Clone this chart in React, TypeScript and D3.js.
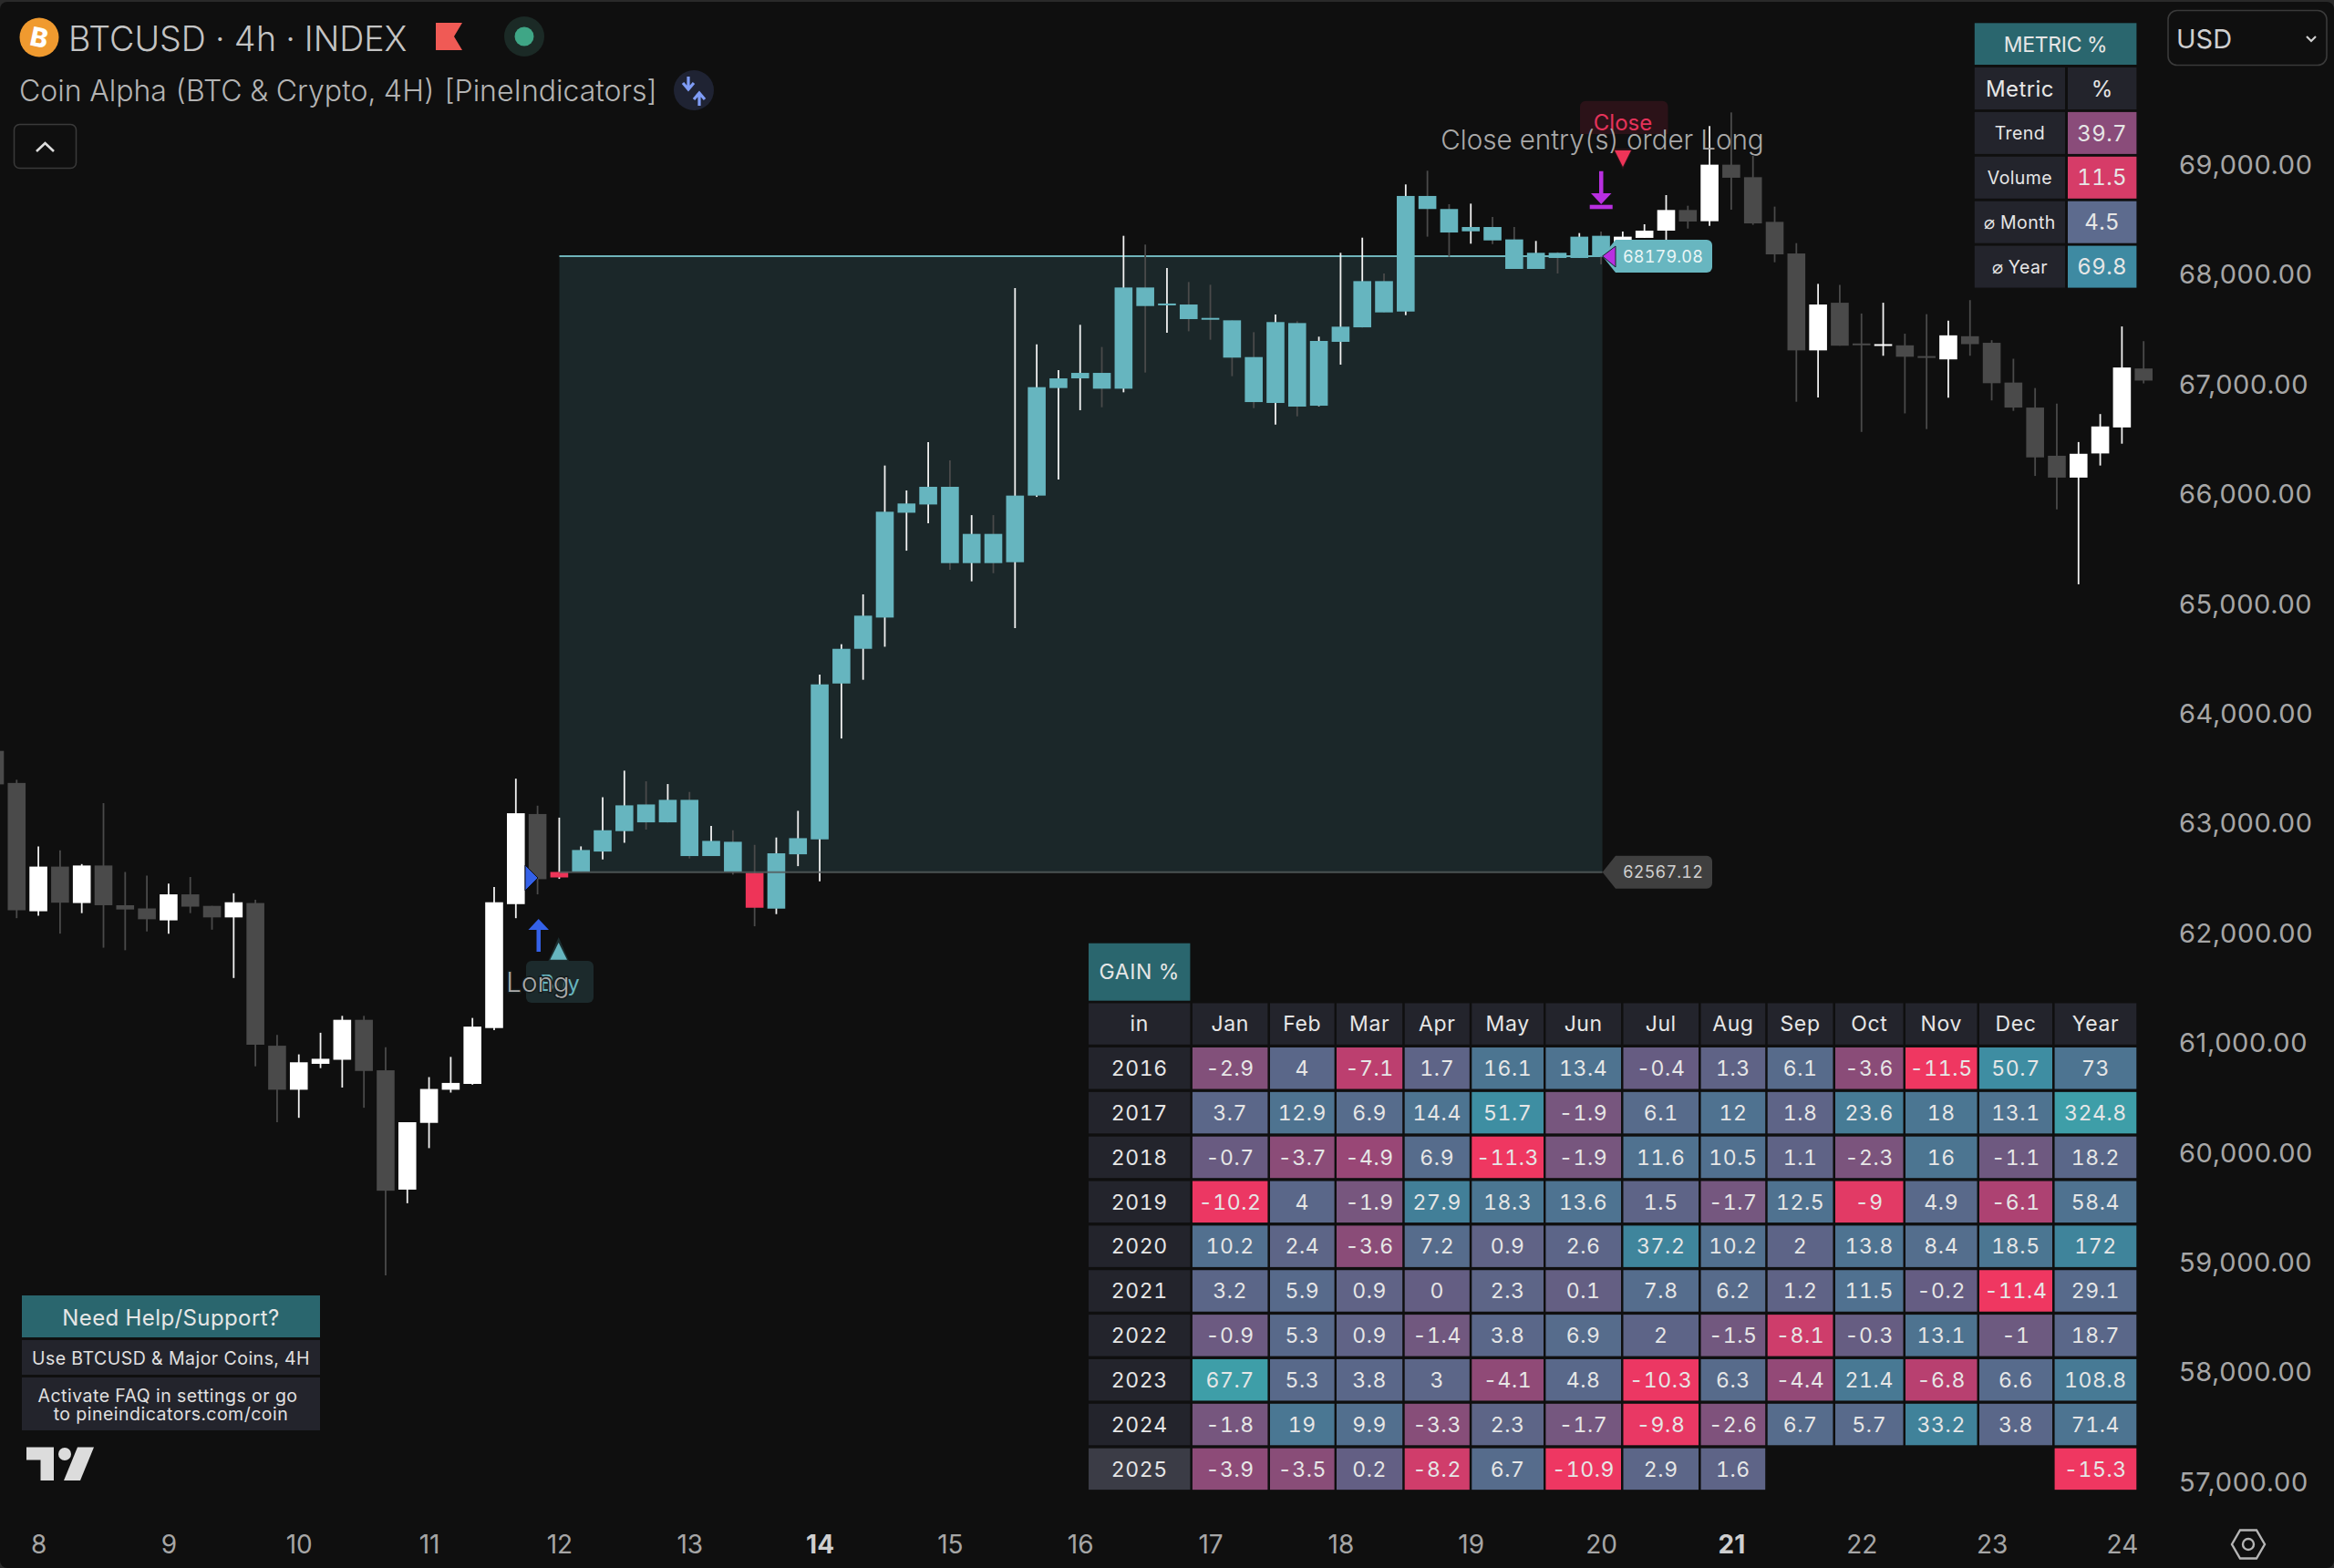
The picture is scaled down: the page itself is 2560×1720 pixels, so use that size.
// @ts-nocheck
import { useRef, useEffect } from "react";
import * as d3 from "d3";

// velas 4h, de izquierda a derecha
const opens = [63672,63380,62211,62618,62286,62628,62266,62237,62128,62365,62260,62155,62286,60986,60585,60821,60858,61222,60762,59675,60283,60585,60638,61147,62276,63097,62519,62572,62755,62941,63184,63021,63226,62714,62844,62561,62235,62730,62866,64286,64602,64887,65842,65917,66078,65383,65649,65391,65998,66978,67066,67116,66972,67894,67734,67739,67617,67595,67260,66842,67570,66817,67399,67531,67952,67675,68728,68609,68406,68445,68332,68063,68210,68163,68365,68271,68346,68412,68600,68498,69013,68899,68492,68204,67321,67755,67384,67367,67367,67269,67239,67450,67390,67028,66800,66361,66162,66382,66619,67156];
const highs = [63672,63409,62802,62766,62641,63196,62569,62536,62463,62523,62260,62375,62316,61084,60907,61104,61258,61258,60973,60289,60700,60884,61239,62431,63419,63173,63064,62802,63251,63492,63395,63370,63298,62988,62949,62816,62883,63126,64367,64644,65098,66272,66045,66485,66319,65820,65820,67889,67376,67141,67554,67352,68365,68285,68071,67944,67919,67595,67487,67648,67587,67446,68210,68348,68022,68833,68958,68653,68658,68537,68445,68318,68215,68390,68404,68404,68470,68736,68639,69365,69489,69093,68631,68298,67927,67918,67657,67755,67473,67651,67592,67779,67414,67245,66978,66836,66486,66741,67539,67405];
const lows = [63367,62148,62171,62007,62194,61879,61856,62027,62007,62194,62043,61603,60798,60289,60329,60782,60605,60421,58894,59551,60053,60559,60631,61127,62148,62365,62506,62572,62683,62835,62955,63021,62692,62714,62545,62074,62185,62622,62484,63785,64320,64621,65496,65746,65322,65217,65291,64790,65986,66144,66776,66803,66939,67119,67482,67495,67418,67086,66795,66645,66720,66812,67191,67531,67667,67642,68357,68174,68293,68290,68063,68063,68022,68163,68105,68200,68346,68326,68431,68456,68603,68465,68124,66853,66892,67364,66578,67272,66747,66604,66889,67272,66865,66770,66177,65872,65190,66272,66471,67020];
const closes = [63367,62220,62618,62289,62628,62266,62227,62138,62365,62253,62155,62293,60995,60585,60835,60867,61222,60756,59665,60289,60592,60647,61160,62293,63104,62503,62569,62769,62949,63176,63021,63226,62714,62852,62572,62243,62739,62877,64278,64602,64904,65851,65926,66078,65383,65649,65383,65998,66986,67066,67116,66972,67894,67725,67748,67606,67606,67255,66850,67579,66809,67407,67537,67952,67667,68728,68609,68395,68445,68323,68063,68210,68163,68357,68174,68357,68412,68600,68495,69013,68894,68478,68196,67321,67739,67364,67372,67378,67263,67257,67458,67378,67022,66800,66346,66162,66379,66628,67165,67046];

// zona de la operacion long y velas marcadas en rojo
const longStart = 27;
const longEnd = 74;
const redBars = [26, 35];
const entryPrice = 62567.12;
const exitPrice = 68179.08;

const priceTicks = [69000,68000,67000,66000,65000,64000,63000,62000,61000,60000,59000,58000,57000];
const dayLabels = [8,9,10,11,12,13,14,15,16,17,18,19,20,21,22,23,24];
const boldDays = [14, 21];

const gainMonths = ["Jan","Feb","Mar","Apr","May","Jun","Jul","Aug","Sep","Oct","Nov","Dec"];
const gainYears = [2016,2017,2018,2019,2020,2021,2022,2023,2024,2025];
const gainRows = [
  [-2.9,4,-7.1,1.7,16.1,13.4,-0.4,1.3,6.1,-3.6,-11.5,50.7],
  [3.7,12.9,6.9,14.4,51.7,-1.9,6.1,12,1.8,23.6,18,13.1],
  [-0.7,-3.7,-4.9,6.9,-11.3,-1.9,11.6,10.5,1.1,-2.3,16,-1.1],
  [-10.2,4,-1.9,27.9,18.3,13.6,1.5,-1.7,12.5,-9,4.9,-6.1],
  [10.2,2.4,-3.6,7.2,0.9,2.6,37.2,10.2,2,13.8,8.4,18.5],
  [3.2,5.9,0.9,0,2.3,0.1,7.8,6.2,1.2,11.5,-0.2,-11.4],
  [-0.9,5.3,0.9,-1.4,3.8,6.9,2,-1.5,-8.1,-0.3,13.1,-1],
  [67.7,5.3,3.8,3,-4.1,4.8,-10.3,6.3,-4.4,21.4,-6.8,6.6],
  [-1.8,19,9.9,-3.3,2.3,-1.7,-9.8,-2.6,6.7,5.7,33.2,3.8],
  [-3.9,-3.5,0.2,-8.2,6.7,-10.9,2.9,1.6],
];
const gainTotals = [73,324.8,18.2,58.4,172,29.1,18.7,108.8,71.4,-15.3];

const metricNames = ["Trend","Volume","⌀ Month","⌀ Year"];
const metricValues = [39.7,11.5,4.5,69.8];
const metricColors = ["#8a4c7a","#d63c68","#5d6b8e","#3e8aa2"];

const FONT = "Inter, 'Noto Sans', sans-serif";
const BG = "#0f0f0f";
const TEAL = "#66b5bf";
const RED = "#ee3458";
const GRAY_BAR = "#4a4a4a";

const App = () => {
  const svgRef = useRef();

  useEffect(() => {
    const svg = d3.select(svgRef.current);
    svg.selectAll("*").remove(); // Limpiar contenido previo

    const label = (g, x, y, str, size, fill, anchor = "middle", weight = 400, spacing = 0) =>
      g.append("text")
        .attr("x", x).attr("y", y).attr("dy", "0.36em")
        .attr("text-anchor", anchor)
        .attr("font-size", size).attr("font-weight", weight)
        .attr("letter-spacing", spacing)
        .style("font-variant-numeric", "tabular-nums")
        .attr("fill", fill).text(str);

    svg.append("rect").attr("width", 2560).attr("height", 1720).attr("fill", "#2a2a2a");
    svg.append("rect").attr("y", 2).attr("width", 2560).attr("height", 1718).attr("rx", 8).attr("fill", BG);

    const root = svg.append("g").attr("font-family", FONT);

    const x = d3.scaleLinear().domain([0, opens.length - 1]).range([-5.53, 2351.2]);
    const y = d3.scaleLinear().domain([69000, 57000]).range([182.2, 1627]);
    const barW = 19.6;

    // zona long
    root.append("rect")
      .attr("x", 613.5).attr("width", 1757.6 - 613.5)
      .attr("y", y(exitPrice)).attr("height", y(entryPrice) - y(exitPrice))
      .attr("fill", "#1b2729");
    root.append("line")
      .attr("x1", 613.5).attr("x2", 1757.6)
      .attr("y1", y(exitPrice)).attr("y2", y(exitPrice))
      .attr("stroke", "#6fb4ba").attr("stroke-width", 2);

    const idx = d3.range(opens.length);
    const isUp = (i) => closes[i] >= opens[i];
    const bodyColor = (i) => {
      if (redBars.includes(i)) return RED;
      if (i >= longStart && i <= longEnd) return TEAL;
      return isUp(i) ? "#ffffff" : GRAY_BAR;
    };

    const candles = root.append("g");
    candles.selectAll(".wick").data(idx).enter().append("line")
      .attr("x1", (i) => x(i)).attr("x2", (i) => x(i))
      .attr("y1", (i) => y(highs[i])).attr("y2", (i) => y(lows[i]))
      .attr("stroke", (i) => (isUp(i) ? "#f2f2f2" : GRAY_BAR))
      .attr("stroke-width", 1.8);
    candles.selectAll(".body").data(idx).enter().append("rect")
      .attr("x", (i) => x(i) - barW / 2).attr("width", barW)
      .attr("y", (i) => y(Math.max(opens[i], closes[i])))
      .attr("height", (i) => Math.max(2, Math.abs(y(opens[i]) - y(closes[i]))))
      .attr("fill", bodyColor);

    root.append("line")
      .attr("x1", 613.5).attr("x2", 1757.6)
      .attr("y1", y(entryPrice)).attr("y2", y(entryPrice))
      .attr("stroke", "#555c5d").attr("stroke-width", 2).attr("opacity", 0.85);

    // ejes
    const yAxis = root.append("g")
      .attr("transform", "translate(2390,-0.9)")
      .call(d3.axisRight(y).tickValues(priceTicks).tickSize(0).tickPadding(0).tickFormat(d3.format(",.2f")));
    yAxis.select(".domain").remove();
    yAxis.selectAll("text")
      .attr("font-family", FONT).attr("font-size", 29).attr("fill", "#a6a6a6")
      .attr("letter-spacing", 0.6);

    const dayBars = dayLabels.map((_, k) => 2 + k * 6);
    const xAxis = root.append("g")
      .attr("transform", "translate(0,1694)")
      .call(d3.axisBottom(x).tickValues(dayBars).tickSize(0).tickPadding(0).tickFormat((_, k) => dayLabels[k]));
    xAxis.select(".domain").remove();
    xAxis.selectAll("text")
      .attr("y", 0).attr("dy", "0.36em")
      .attr("font-family", FONT).attr("font-size", 28)
      .attr("font-weight", (_, k) => (boldDays.includes(dayLabels[k]) ? 700 : 400))
      .attr("fill", (_, k) => (boldDays.includes(dayLabels[k]) ? "#cfcfcf" : "#a6a6a6"));

    // icono de ajustes
    root.append("path")
      .attr("d", "M2448,1694L2457,1678.5L2475,1678.5L2484,1694L2475,1709.5L2457,1709.5Z")
      .attr("fill", "none").attr("stroke", "#b5b5b5").attr("stroke-width", 2.4);
    root.append("circle").attr("cx", 2466).attr("cy", 1694).attr("r", 6)
      .attr("fill", "none").attr("stroke", "#b5b5b5").attr("stroke-width", 2.4);

    // cabecera
    root.append("circle").attr("cx", 43).attr("cy", 41).attr("r", 21.5).attr("fill", "#f09a2f");
    root.append("text")
      .attr("transform", "translate(43,41) rotate(12)")
      .attr("dy", "0.36em").attr("text-anchor", "middle")
      .attr("font-size", 29).attr("font-weight", 800).attr("fill", "#fff").text("B");
    label(root, 75, 42, "BTCUSD · 4h · INDEX", 37.6, "#c4c4c4", "start", 300);
    root.append("polygon").attr("points", "478,25 507,25 498,40 507,55 478,55").attr("fill", "#f05a55");
    root.append("circle").attr("cx", 575).attr("cy", 40).attr("r", 22).attr("fill", "#1b2a26");
    root.append("circle").attr("cx", 575).attr("cy", 40).attr("r", 10.5).attr("fill", "#3fa686");
    label(root, 21, 99, "Coin Alpha (BTC & Crypto, 4H) [PineIndicators]", 32, "#b4b4b4", "start", 300);
    root.append("circle").attr("cx", 761).attr("cy", 99).attr("r", 22).attr("fill", "#1f2333");
    root.append("path")
      .attr("d", "M755,84V97M749,91L755,98L761,91M767,116V103M761,109L767,102L773,109")
      .attr("fill", "none").attr("stroke", "#7f9cf5").attr("stroke-width", 3.2);
    root.append("rect").attr("x", 15.5).attr("y", 136.5).attr("width", 68).attr("height", 48).attr("rx", 6)
      .attr("fill", "none").attr("stroke", "#3a3a3a").attr("stroke-width", 1.5);
    root.append("path").attr("d", "M40,166L49.5,157L59,166")
      .attr("fill", "none").attr("stroke", "#dddddd").attr("stroke-width", 2.6);

    // selector de moneda
    root.append("rect").attr("x", 2378).attr("y", 11.5).attr("width", 174).attr("height", 60).attr("rx", 10)
      .attr("fill", BG).attr("stroke", "#3a3a3a").attr("stroke-width", 1.6);
    label(root, 2387, 43, "USD", 29, "#d0d0d0", "start");
    root.append("path").attr("d", "M2530,40L2535,45L2540,40")
      .attr("fill", "none").attr("stroke", "#d0d0d0").attr("stroke-width", 2.2);

    // marcas de la entrada
    root.append("polygon").attr("points", "576,949 590,963 576,977").attr("fill", "#3461e8").attr("stroke", "#0c1020").attr("stroke-width", 1);
    root.append("path").attr("d", "M590.7,1008L602,1020L593,1020L593,1044L588.5,1044L588.5,1020L579.5,1020Z").attr("fill", "#3461e8");
    root.append("polygon").attr("points", "612.7,1028 624,1054 601.4,1054").attr("fill", "#1c2d2f");
    root.append("rect").attr("x", 577).attr("y", 1054).attr("width", 74).attr("height", 46).attr("rx", 6).attr("fill", "#1c2a2c");
    root.append("polygon").attr("points", "612.7,1034 622,1052.7 603.4,1052.7").attr("fill", TEAL);
    label(root, 614, 1078, "Buy", 24, TEAL);
    label(root, 590, 1077, "Long", 29.5, "#aaaaaa", "middle", 300)
      .attr("stroke", "#141c1d").attr("stroke-width", 3).attr("paint-order", "stroke");

    // marcas de la salida
    root.append("path")
      .attr("d", "M1739,110.7H1823.5a6,6 0 0 1 6,6V147H1733V116.7a6,6 0 0 1 6,-6Z")
      .attr("fill", "#2b1218");
    label(root, 1780, 134.5, "Close", 24, "#e5325a");
    root.append("polygon").attr("points", "1769,163 1791,163 1780,186").attr("fill", "#2b1218");
    root.append("polygon").attr("points", "1771,165 1789,165 1780,183").attr("fill", RED);
    label(root, 1757.5, 153, "Close entry(s) order Long", 29.6, "#a9a9a9", "middle", 300);
    root.append("path")
      .attr("d", "M1754,187.7H1758.5V212H1767.5L1756.2,224L1745,212H1754Z")
      .attr("fill", "#b82fe0");
    root.append("rect").attr("x", 1743.7).attr("y", 224.7).attr("width", 25).attr("height", 4.6).attr("fill", "#b82fe0");

    // etiquetas de precio
    const priceTag = (price, fill, color) => {
      const c = y(price);
      root.append("path")
        .attr("d", `M1757.6,${c}L1772,${c - 18}H1872a6,6 0 0 1 6,6V${c + 12}a6,6 0 0 1 -6,6H1772Z`)
        .attr("fill", fill);
      label(root, 1824, c, d3.format(".2f")(price), 18, color, "middle", 400, 0.2);
    };
    priceTag(exitPrice, "#68b6c0", "#eaf6f7");
    priceTag(entryPrice, "#3f3f3f", "#cfcfcf");
    root.append("polygon").attr("points", "1757.6,281 1772,270 1772,293").attr("fill", "#b82fe0").attr("stroke", "#16222b").attr("stroke-width", 1);

    // tabla GAIN %
    const gainColors = d3.scaleLinear()
      .domain([-11.5,-10.2,-9,-8.2,-7.1,-6.1,-4.9,-3.6,-1.9,-0.4,1,4,7,12,18,27.9,37,51,67.7])
      .range(["#ef3761","#ec3763","#e23a65","#d03d6b","#bc3f6f","#ad4272","#994776","#8a4c78","#77567e","#665c82","#5f6386","#5a6789","#566c8c","#4f7290","#4b7692","#427f98","#3f859c","#3e8da2","#3e9ea8"])
      .clamp(true);
    const totalColor = (v) => (v < 0 ? gainColors(v) : gainColors(v / 4.8));

    const table = root.append("g");
    const colStarts = [1194,1307.9,1393,1466,1540.7,1614.3,1695.4,1780.5,1865.6,1938.7,2013,2090,2171,2253.6];
    const colEnds = [1305.4,1390.4,1463.6,1538.2,1611.8,1693,1778,1863,1936.2,2010.4,2087.5,2168.5,2251,2343.3];
    const rowY = (k) => 1149 + k * 48.85;
    const rowH = 45.5;
    const cell = (g, c, top, h, fill, str, color = "#e6e6e6") => {
      g.append("rect").attr("x", colStarts[c]).attr("y", top)
        .attr("width", colEnds[c] - colStarts[c]).attr("height", h).attr("fill", fill);
      label(g, (colStarts[c] + colEnds[c]) / 2, top + h / 2, str, 23, color, "middle", 400, 0.6);
    };

    table.append("rect").attr("x", 1194).attr("y", 1034.7).attr("width", 111.4).attr("height", 63).attr("fill", "#2a666e");
    label(table, 1249.7, 1066, "GAIN %", 23, "#e6e6e6", "middle", 400, 0.6);
    ["in", ...gainMonths, "Year"].forEach((h, c) => cell(table, c, 1100.4, 45.4, "#23242c", h));
    gainYears.forEach((yr, r) => {
      cell(table, 0, rowY(r), rowH, yr === 2025 ? "#3b3c46" : "#23242c", yr);
      gainRows[r].forEach((v, c) => cell(table, c + 1, rowY(r), rowH, gainColors(v), v));
      cell(table, 13, rowY(r), rowH, totalColor(gainTotals[r]), gainTotals[r]);
    });

    // tabla METRIC %
    const metric = root.append("g");
    metric.append("rect").attr("x", 2165.8).attr("y", 25.3).attr("width", 177.6).attr("height", 45.7).attr("fill", "#2a666e");
    label(metric, 2254.6, 49, "METRIC %", 23, "#e6e6e6", "middle", 400, -0.3);
    const mRowY = (k) => 74 + k * 48.9;
    const mCell = (x0, x1, k, fill, str, size) => {
      metric.append("rect").attr("x", x0).attr("y", mRowY(k)).attr("width", x1 - x0).attr("height", 46).attr("fill", fill);
      label(metric, (x0 + x1) / 2, mRowY(k) + 23, str, size, "#e6e6e6", "middle", 400, 0.4);
    };
    mCell(2165.8, 2265, 0, "#23242c", "Metric", 24);
    mCell(2268, 2343.4, 0, "#23242c", "%", 24);
    metricNames.forEach((n, k) => {
      mCell(2165.8, 2265, k + 1, "#23242c", n, 19.5);
      mCell(2268, 2343.4, k + 1, metricColors[k], metricValues[k], 24);
    });

    // panel de ayuda
    const help = root.append("g");
    help.append("rect").attr("x", 24).attr("y", 1421).attr("width", 327).attr("height", 46).attr("fill", "#2a666e");
    label(help, 187.5, 1445, "Need Help/Support?", 24, "#e6e6e6", "middle", 400, 0.4);
    help.append("rect").attr("x", 24).attr("y", 1470).attr("width", 327).attr("height", 38).attr("fill", "#23242c");
    label(help, 187.5, 1489.5, "Use BTCUSD & Major Coins, 4H", 19.5, "#e0e0e0", "middle", 400, 0.5);
    help.append("rect").attr("x", 24).attr("y", 1511).attr("width", 327).attr("height", 58).attr("fill", "#23242c");
    label(help, 184, 1531, "Activate FAQ in settings or go", 19.5, "#e0e0e0", "middle", 400, 0.5);
    label(help, 187.5, 1551, "to pineindicators.com/coin", 19.5, "#e0e0e0", "middle", 400, 0.5);

    // logo
    const logo = root.append("g").attr("fill", "#dcdcdc");
    logo.append("path").attr("d", "M29,1587.5H59V1624H44.5V1601.5H29Z");
    logo.append("circle").attr("cx", 71).attr("cy", 1595).attr("r", 7);
    logo.append("path").attr("d", "M85,1587.5H103L88,1624H70Z");
  }, []);

  return (
    <svg
      ref={svgRef}
      width={2560}
      height={1720}
      style={{ position: "absolute", left: 0, top: 0, display: "block" }}
    ></svg>
  );
};

export default App;
